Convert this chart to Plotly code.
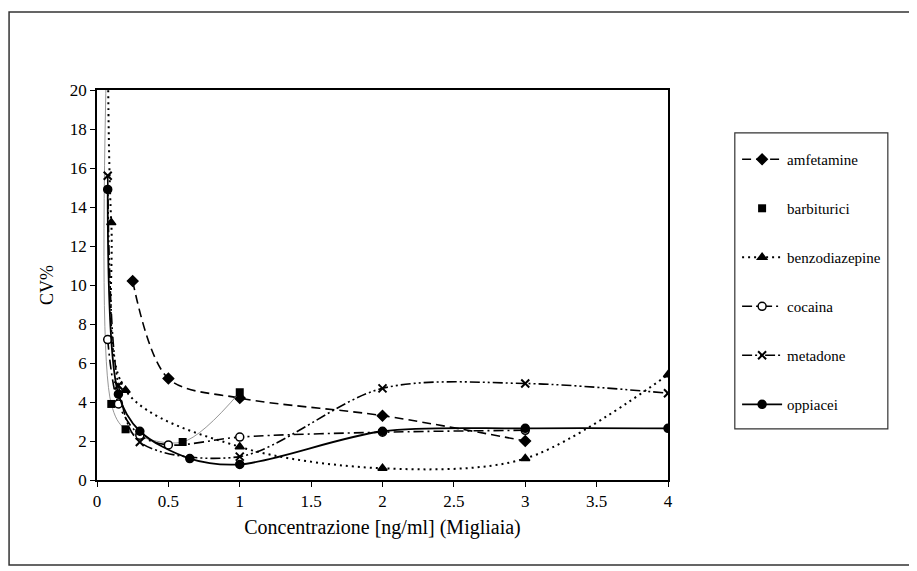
import plotly.graph_objects as go

# ---- data ----
amf_x = [0.25, 0.5, 1, 2, 3]
amf_y = [10.2, 5.2, 4.2, 3.3, 2.0]

barb_x = [0.075, 0.1, 0.2, 0.6, 1]
barb_y = [24, 3.9, 2.6, 1.95, 4.5]

benzo_x = [0.075, 0.1, 0.2, 1, 2, 3, 4]
benzo_y = [24, 13.2, 4.6, 1.7, 0.6, 1.1, 5.4]

coc_x = [0.075, 0.15, 0.3, 0.5, 1, 2, 3]
coc_y = [7.2, 3.9, 2.3, 1.8, 2.2, 2.45, 2.55]

met_x = [0.075, 0.15, 0.3, 1, 2, 3, 4]
met_y = [15.6, 4.85, 1.95, 1.2, 4.7, 4.95, 4.45]

opp_x = [0.075, 0.15, 0.3, 0.65, 1, 2, 3, 4]
opp_y = [14.9, 4.4, 2.5, 1.1, 0.8, 2.5, 2.65, 2.65]

x_ticks = [0, 0.5, 1, 1.5, 2, 2.5, 3, 3.5, 4]
y_ticks = [0, 2, 4, 6, 8, 10, 12, 14, 16, 18, 20]

FONT = "Liberation Serif"
fig = go.Figure()

def add(name, x, y, dash, symbol, width=1.6, color="black", msize=7, open_=False, showlegend=True, lw=None):
    marker = dict(symbol=symbol, size=msize, color=color if not open_ else "white",
                  line=dict(color=color, width=1.5 if lw is None else lw))
    fig.add_trace(go.Scatter(
        x=x, y=y, name=name, mode="lines+markers",
        line=dict(color=color, width=width, dash=dash, shape="spline", smoothing=0.9),
        marker=marker, legendgroup=name, showlegend=showlegend, cliponaxis=True))

add("amfetamine", amf_x, amf_y, "9px,5px", "diamond", msize=8)
# barbiturici: thin gray line, legend shows marker only
fig.add_trace(go.Scatter(x=barb_x, y=barb_y, mode="lines", showlegend=False,
                         line=dict(color="#8a8a8a", width=0.9, shape="spline", smoothing=0.9),
                         legendgroup="barbiturici"))
fig.add_trace(go.Scatter(x=barb_x, y=barb_y, mode="markers", name="barbiturici",
                         marker=dict(symbol="square", size=8, color="black"),
                         legendgroup="barbiturici"))
add("benzodiazepine", benzo_x, benzo_y, "2px,4px", "triangle-up", width=2, msize=8)
add("cocaina", coc_x, coc_y, "10px,4px,2px,4px", "circle", msize=8, open_=True)
add("metadone", met_x, met_y, "10px,3px,2px,3px,2px,3px", "x-thin-open", msize=8, lw=2)
add("oppiacei", opp_x, opp_y, "solid", "circle", width=1.8, msize=8)

fig.update_layout(
    width=909, height=563,
    margin=dict(l=89, r=249, t=82, b=91, autoexpand=False),
    paper_bgcolor="white", plot_bgcolor="white",
    font=dict(family=FONT, size=17, color="black"),
    showlegend=True,
    legend=dict(x=1.121, y=0.864, xanchor="left", yanchor="top",
                borderwidth=0,
                font=dict(family=FONT, size=15, color="black"),
                tracegroupgap=26.5, itemwidth=40,
                bgcolor="rgba(0,0,0,0)"),
    xaxis=dict(range=[0, 4], tickvals=x_ticks, ticktext=[f"{v:g}" for v in x_ticks],
               showgrid=False, zeroline=False, showline=True, linecolor="black", linewidth=1.5,
               mirror=True, ticks="outside", ticklen=5, tickcolor="black", automargin=False,
               title=dict(text="Concentrazione [ng/ml] (Migliaia)", font=dict(size=20), standoff=10)),
    yaxis=dict(range=[0, 20], tickvals=y_ticks,
               showgrid=False, zeroline=False, showline=True, linecolor="black", linewidth=1.5,
               mirror=True, ticks="outside", ticklen=5, tickcolor="black", automargin=False,
               title=dict(text="CV%", font=dict(size=18), standoff=12)),
    shapes=[dict(type="rect", xref="paper", yref="paper",
                 x0=-0.154, x1=1.432, y0=-0.218, y1=1.2,
                 line=dict(color="#333", width=1.5)),
            dict(type="rect", xref="paper", yref="paper",
                 x0=1.117, x1=1.385, y0=0.131, y1=0.890,
                 line=dict(color="#333", width=1.2))],
)

fig.write_html("out.html")
